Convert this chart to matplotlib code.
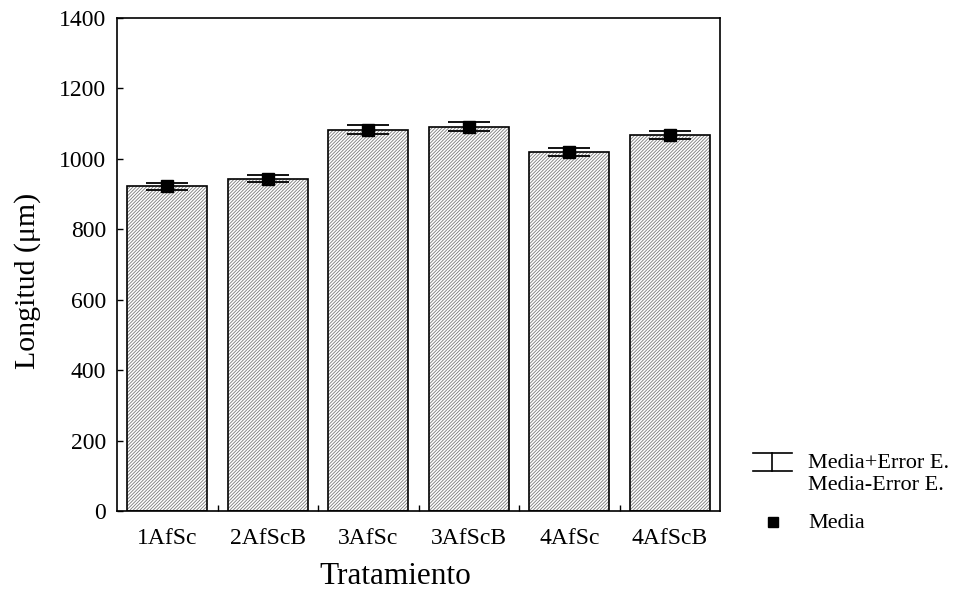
import matplotlib
matplotlib.use("Agg")
import matplotlib.pyplot as plt
from matplotlib.lines import Line2D

plt.rcParams["font.family"] = ["Liberation Serif", "DejaVu Serif"]
plt.rcParams["hatch.linewidth"] = 0.6

tratamientos = ["1AfSc", "2AfScB", "3AfSc", "3AfScB", "4AfSc", "4AfScB"]
medias = [922, 944, 1083, 1091, 1019, 1069]
errores = [10.5, 9.5, 12, 13, 11, 11.5]
y_ticks = [0, 200, 400, 600, 800, 1000, 1200, 1400]

W, H = 963, 592
fig = plt.figure(figsize=(W / 100, H / 100), dpi=100)
ax = fig.add_axes([117 / W, 1 - 511 / H, (720 - 117) / W, (511 - 18) / H])

x = list(range(len(tratamientos)))

# hatched fill, then a separate black outline
ax.bar(x, medias, width=0.8, color="white", edgecolor="#7a7a7a",
       hatch="//////////", linewidth=0, zorder=2)
ax.bar(x, medias, width=0.8, fill=False, edgecolor="black",
       linewidth=1.2, zorder=3)

ax.errorbar(x, medias, yerr=errores, fmt="s", color="black", ms=8,
            ecolor="black", elinewidth=1.3, capsize=15, capthick=1.3,
            zorder=4)

ax.set_xlim(-0.5, len(tratamientos) - 0.5)
ax.set_ylim(0, 1400)
ax.set_yticks(y_ticks)
ax.set_xticks(x)
ax.set_xticklabels(tratamientos)
ax.set_xticks([i + 0.5 for i in x[:-1]], minor=True)
ax.tick_params(axis="x", which="major", length=0, pad=12, labelsize=17)
ax.tick_params(axis="x", which="minor", direction="in", length=4, width=1)
ax.tick_params(axis="y", direction="in", length=4, width=1, pad=8,
               labelsize=17)
for s in ax.spines.values():
    s.set_linewidth(1.2)


# legend and axis titles placed in figure pixel coordinates
def fx(px):
    return px / W


def fy(py):
    return 1 - py / H


fig.text(fx(395), fy(577), "Tratamiento", fontsize=22.5,
         ha="center", va="center")
fig.text(fx(28), fy(281), "Longitud (μm)", fontsize=21.5,
         ha="center", va="center", rotation=90)

fig.add_artist(Line2D([fx(753), fx(792)], [fy(453), fy(453)],
                      color="black", lw=1.2, transform=fig.transFigure))
fig.add_artist(Line2D([fx(772), fx(772)], [fy(453), fy(471)],
                      color="black", lw=1.2, transform=fig.transFigure))
fig.add_artist(Line2D([fx(753), fx(792)], [fy(471), fy(471)],
                      color="black", lw=1.2, transform=fig.transFigure))
fig.add_artist(Line2D([fx(773)], [fy(522)], marker="s", ms=7.5,
                      color="black", ls="none", transform=fig.transFigure))
fig.text(fx(808), fy(463), "Media+Error E.", fontsize=16, va="center")
fig.text(fx(808), fy(485), "Media-Error E.", fontsize=16, va="center")
fig.text(fx(808), fy(523), "Media", fontsize=16, va="center")

fig.savefig("out.png", dpi=100)
